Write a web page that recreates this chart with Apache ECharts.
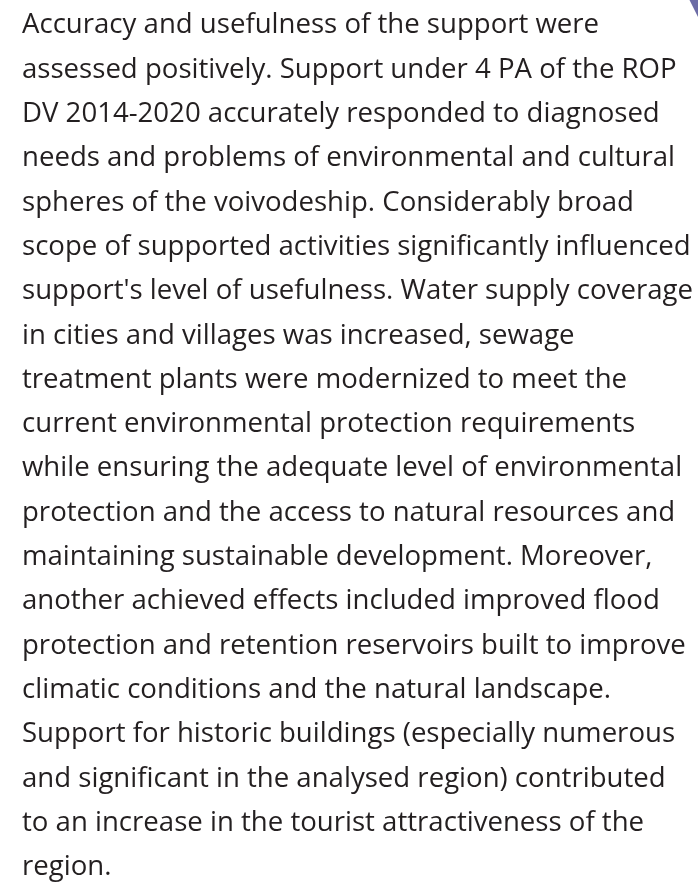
<!DOCTYPE html>
<html>
<head>
<meta charset="utf-8">
<script src="https://cdn.jsdelivr.net/npm/echarts@6/dist/echarts.min.js"></script>
<style>
html,body{margin:0;padding:0;background:#ffffff;}
#chart{width:698px;height:884px;}
</style>
</head>
<body>
<div id="chart"></div>
<script>
var textLines = [
  "Accuracy and usefulness of the support were",
  "assessed positively. Support under 4 PA of the ROP",
  "DV 2014-2020 accurately responded to diagnosed",
  "needs and problems of environmental and cultural",
  "spheres of the voivodeship. Considerably broad",
  "scope of supported activities significantly influenced",
  "support's level of usefulness. Water supply coverage",
  "in cities and villages was increased, sewage",
  "treatment plants were modernized to meet the",
  "current environmental protection requirements",
  "while ensuring the adequate level of environmental",
  "protection and the access to natural resources and",
  "maintaining sustainable development. Moreover,",
  "another achieved effects included improved flood",
  "protection and retention reservoirs built to improve",
  "climatic conditions and the natural landscape.",
  "Support for historic buildings (especially numerous",
  "and significant in the analysed region) contributed",
  "to an increase in the tourist attractiveness of the",
  "region."
];

var chart = echarts.init(document.getElementById('chart'), null, {renderer: 'canvas'});
var leftX = 22;
var firstY = 25.5;
var gap = 44.3;
var fontSize = 28;
var scaleX = 0.985;

var elements = textLines.map(function (t, i) {
  return {
    type: 'text',
    x: leftX,
    y: firstY + gap * i,
    scaleX: scaleX,
    style: {
      text: t,
      fill: '#231f20',
      font: 'normal ' + fontSize + 'px "Open Sans", "Noto Sans", sans-serif',
      textAlign: 'left',
      textVerticalAlign: 'middle'
    }
  };
});

elements.push({
  type: 'polygon',
  shape: { points: [[689.5, 0], [700, 0], [700, 21]] },
  style: { fill: '#6c6ca6' }
});

chart.setOption({
  backgroundColor: '#ffffff',
  animation: false,
  graphic: { elements: elements }
});
</script>
</body>
</html>
